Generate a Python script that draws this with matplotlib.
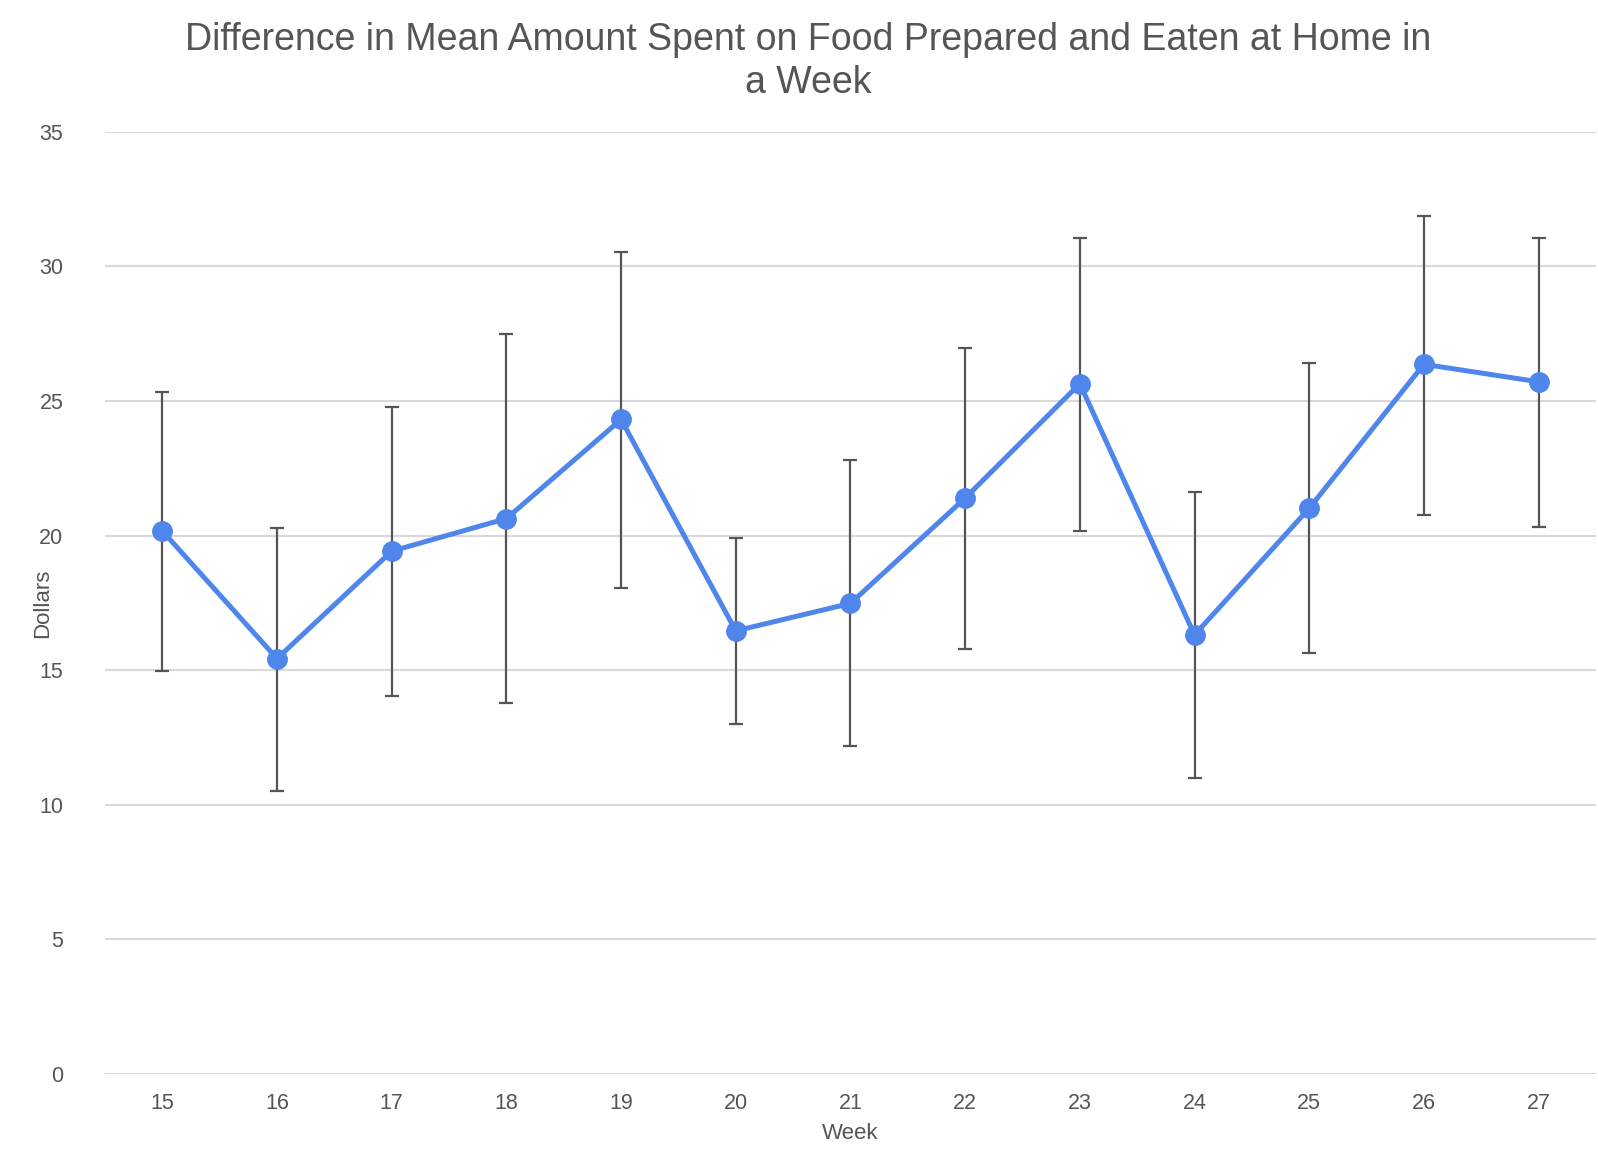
import matplotlib
matplotlib.use("Agg")
import matplotlib.pyplot as plt

weeks = [15, 16, 17, 18, 19, 20, 21, 22, 23, 24, 25, 26, 27]
means = [20.17, 15.43, 19.42, 20.63, 24.31, 16.46, 17.48, 21.39, 25.64, 16.31, 21.01, 26.36, 25.71]
upper = [25.33, 20.29, 24.76, 27.49, 30.53, 19.91, 22.79, 26.96, 31.06, 21.62, 26.39, 31.85, 31.06]
lower = [14.98, 10.50, 14.03, 13.77, 18.05, 13.01, 12.17, 15.78, 20.17, 11.00, 15.62, 20.78, 20.33]
yticks = [0, 5, 10, 15, 20, 25, 30, 35]

title = "Difference in Mean Amount Spent on Food Prepared and Eaten at Home in\na Week"

plt.rcParams['font.family'] = ['Liberation Sans', 'DejaVu Sans']
txt = '#555555'

fig = plt.figure(figsize=(15.98, 11.58), dpi=100)
ax = fig.add_axes([0.0657, 0.0725, 0.933, 0.8138])

err_lo = [m - l for m, l in zip(means, lower)]
err_hi = [u - m for m, u in zip(means, upper)]
ax.errorbar(weeks, means, yerr=[err_lo, err_hi], fmt='none', ecolor='#555555',
            elinewidth=1.6, capsize=5, capthick=1.6, zorder=3)
ax.plot(weeks, means, color='#4f86ec', linewidth=3.6, marker='o', markersize=14,
        zorder=4)

ax.set_xlim(14.5, 27.5)
ax.set_ylim(0, 35)
ax.set_yticks(yticks)
ax.set_xticks(weeks)
ax.set_xticklabels([str(w) for w in weeks])
ax.grid(axis='y', color='#d9d9d9', linewidth=1.5, zorder=0)
ax.set_axisbelow(True)
for s in ['top', 'right', 'left', 'bottom']:
    ax.spines[s].set_visible(False)
ax.tick_params(axis='both', length=0, labelsize=15.5, labelcolor=txt)
ax.tick_params(axis='y', pad=30)
ax.tick_params(axis='x', pad=14)

ax.set_xlabel('Week', fontsize=16, color=txt, labelpad=6)
ax.set_ylabel('Dollars', fontsize=16, color=txt, labelpad=-10)

fig.text(0.506, 0.947, title, ha='center', va='center', fontsize=27,
         color=txt, linespacing=1.25)

fig.savefig('out.png', dpi=100)
